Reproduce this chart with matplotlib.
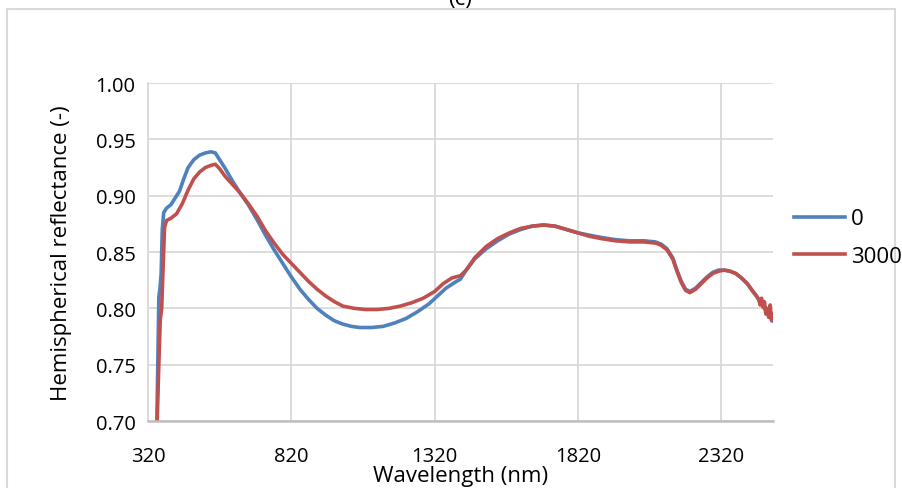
import matplotlib
matplotlib.use("Agg")
import matplotlib.pyplot as plt
from matplotlib.patches import Rectangle

plt.rcParams['font.family'] = ['Open Sans', 'DejaVu Sans']

# sample "0"
wl_0 = [350, 355, 358, 362, 366, 370, 375, 385, 400, 415, 430, 445, 460, 480,
        500, 520, 540, 555, 570, 590, 615, 640, 670, 700, 730, 760, 790, 820,
        850, 880, 910, 940, 970, 1000, 1030, 1060, 1100, 1140, 1180, 1220,
        1260, 1300, 1330, 1360, 1390, 1410, 1430, 1460, 1500, 1540, 1580,
        1620, 1660, 1700, 1740, 1780, 1820, 1860, 1900, 1950, 2000, 2050,
        2090, 2110, 2130, 2150, 2165, 2180, 2195, 2210, 2230, 2250, 2270,
        2290, 2310, 2330, 2350, 2370, 2390, 2410, 2430, 2450, 2460, 2470,
        2480, 2490, 2500]
refl_0 = [0.68, 0.76, 0.81, 0.818, 0.83, 0.87, 0.885, 0.889, 0.892, 0.898,
          0.904, 0.915, 0.925, 0.932, 0.936, 0.938, 0.939, 0.938, 0.932,
          0.924, 0.913, 0.903, 0.892, 0.879, 0.865, 0.852, 0.840, 0.828,
          0.817, 0.808, 0.800, 0.794, 0.789, 0.786, 0.784, 0.783, 0.783,
          0.784, 0.787, 0.791, 0.797, 0.804, 0.811, 0.818, 0.823, 0.826,
          0.834, 0.844, 0.853, 0.860, 0.866, 0.870, 0.873, 0.874, 0.873,
          0.870, 0.867, 0.865, 0.863, 0.861, 0.860, 0.860, 0.859, 0.857,
          0.853, 0.845, 0.834, 0.824, 0.817, 0.815, 0.818, 0.823, 0.828,
          0.832, 0.834, 0.834, 0.833, 0.831, 0.827, 0.822, 0.815, 0.808,
          0.805, 0.800, 0.796, 0.792, 0.789]

# sample "3000"
wl_3000 = [350, 358, 363, 368, 372, 378, 385, 400, 420, 440, 460, 480, 500,
           520, 540, 555, 570, 590, 615, 640, 670, 700, 730, 760, 790, 820,
           850, 880, 910, 940, 970, 1000, 1040, 1080, 1120, 1160, 1200, 1240,
           1280, 1320, 1350, 1380, 1410, 1430, 1460, 1500, 1540, 1580, 1620,
           1660, 1700, 1740, 1780, 1820, 1860, 1900, 1950, 2000, 2050, 2090,
           2110, 2130, 2150, 2165, 2180, 2195, 2210, 2230, 2250, 2270, 2290,
           2310, 2330, 2350, 2370, 2390, 2410, 2430, 2440, 2450, 2455, 2460,
           2465, 2470, 2475, 2480, 2485, 2490, 2495, 2500]
refl_3000 = [0.68, 0.75, 0.79, 0.80, 0.83, 0.872, 0.878, 0.880, 0.884, 0.893,
             0.905, 0.915, 0.921, 0.925, 0.927, 0.928, 0.924, 0.917, 0.910,
             0.903, 0.893, 0.882, 0.869, 0.858, 0.848, 0.840, 0.832, 0.824,
             0.817, 0.811, 0.806, 0.802, 0.800, 0.799, 0.799, 0.800, 0.802,
             0.805, 0.809, 0.815, 0.822, 0.827, 0.829, 0.834, 0.845, 0.855,
             0.862, 0.867, 0.871, 0.873, 0.874, 0.873, 0.870, 0.867, 0.864,
             0.862, 0.860, 0.859, 0.859, 0.858, 0.856, 0.852, 0.844, 0.833,
             0.823, 0.816, 0.814, 0.817, 0.822, 0.827, 0.831, 0.833, 0.834,
             0.833, 0.831, 0.827, 0.822, 0.815, 0.812, 0.808, 0.803, 0.809,
             0.801, 0.806, 0.795, 0.800, 0.792, 0.803, 0.789, 0.795]

x_ticks = [320, 820, 1320, 1820, 2320]
y_ticks = [0.70, 0.75, 0.80, 0.85, 0.90, 0.95, 1.00]

fig = plt.figure(figsize=(9.02, 4.89), dpi=100)
ax = fig.add_axes([0.164, 0.137, 0.693, 0.691])

ax.plot(wl_0, refl_0, color='#4F81BD', lw=2.6, label='0')
ax.plot(wl_3000, refl_3000, color='#C0504D', lw=2.6, label='3000')

ax.set_xlim(320, 2500)
ax.set_ylim(0.70, 1.00)
ax.set_xticks(x_ticks)
ax.set_yticks(y_ticks)
ax.set_yticklabels([f'{v:.2f}' for v in y_ticks])
ax.tick_params(length=0, labelsize=14.5, pad=9)
ax.tick_params(axis='x', pad=18)
ax.grid(True, color='#d9d9d9', lw=1.3)
ax.set_axisbelow(True)
for side in ['top', 'right']:
    ax.spines[side].set_visible(False)
ax.spines['left'].set_color('#d9d9d9')
ax.spines['left'].set_linewidth(1.3)
ax.spines['bottom'].set_color('#bfbfbf')
ax.spines['bottom'].set_linewidth(1.8)

ax.set_xlabel('Wavelength (nm)', fontsize=16, labelpad=-1)
ax.set_ylabel('Hemispherical reflectance (-)', fontsize=16, labelpad=17)

fig.legend(loc='center left', bbox_to_anchor=(0.858, 0.512), frameon=False,
           fontsize=16, handlelength=2.3, handletextpad=0.25, labelspacing=0.75)

# chart border and clipped title, as in the source
fig.patches.append(Rectangle((7 / 902, -0.1), 888 / 902, 1.1 - 10 / 489,
                             transform=fig.transFigure, fill=False,
                             edgecolor='#d9d9d9', lw=1.5))
fig.text(0.51, 1 - 5 / 489, '(c)', ha='center', va='baseline', fontsize=16)

fig.savefig('out.png', dpi=100)
